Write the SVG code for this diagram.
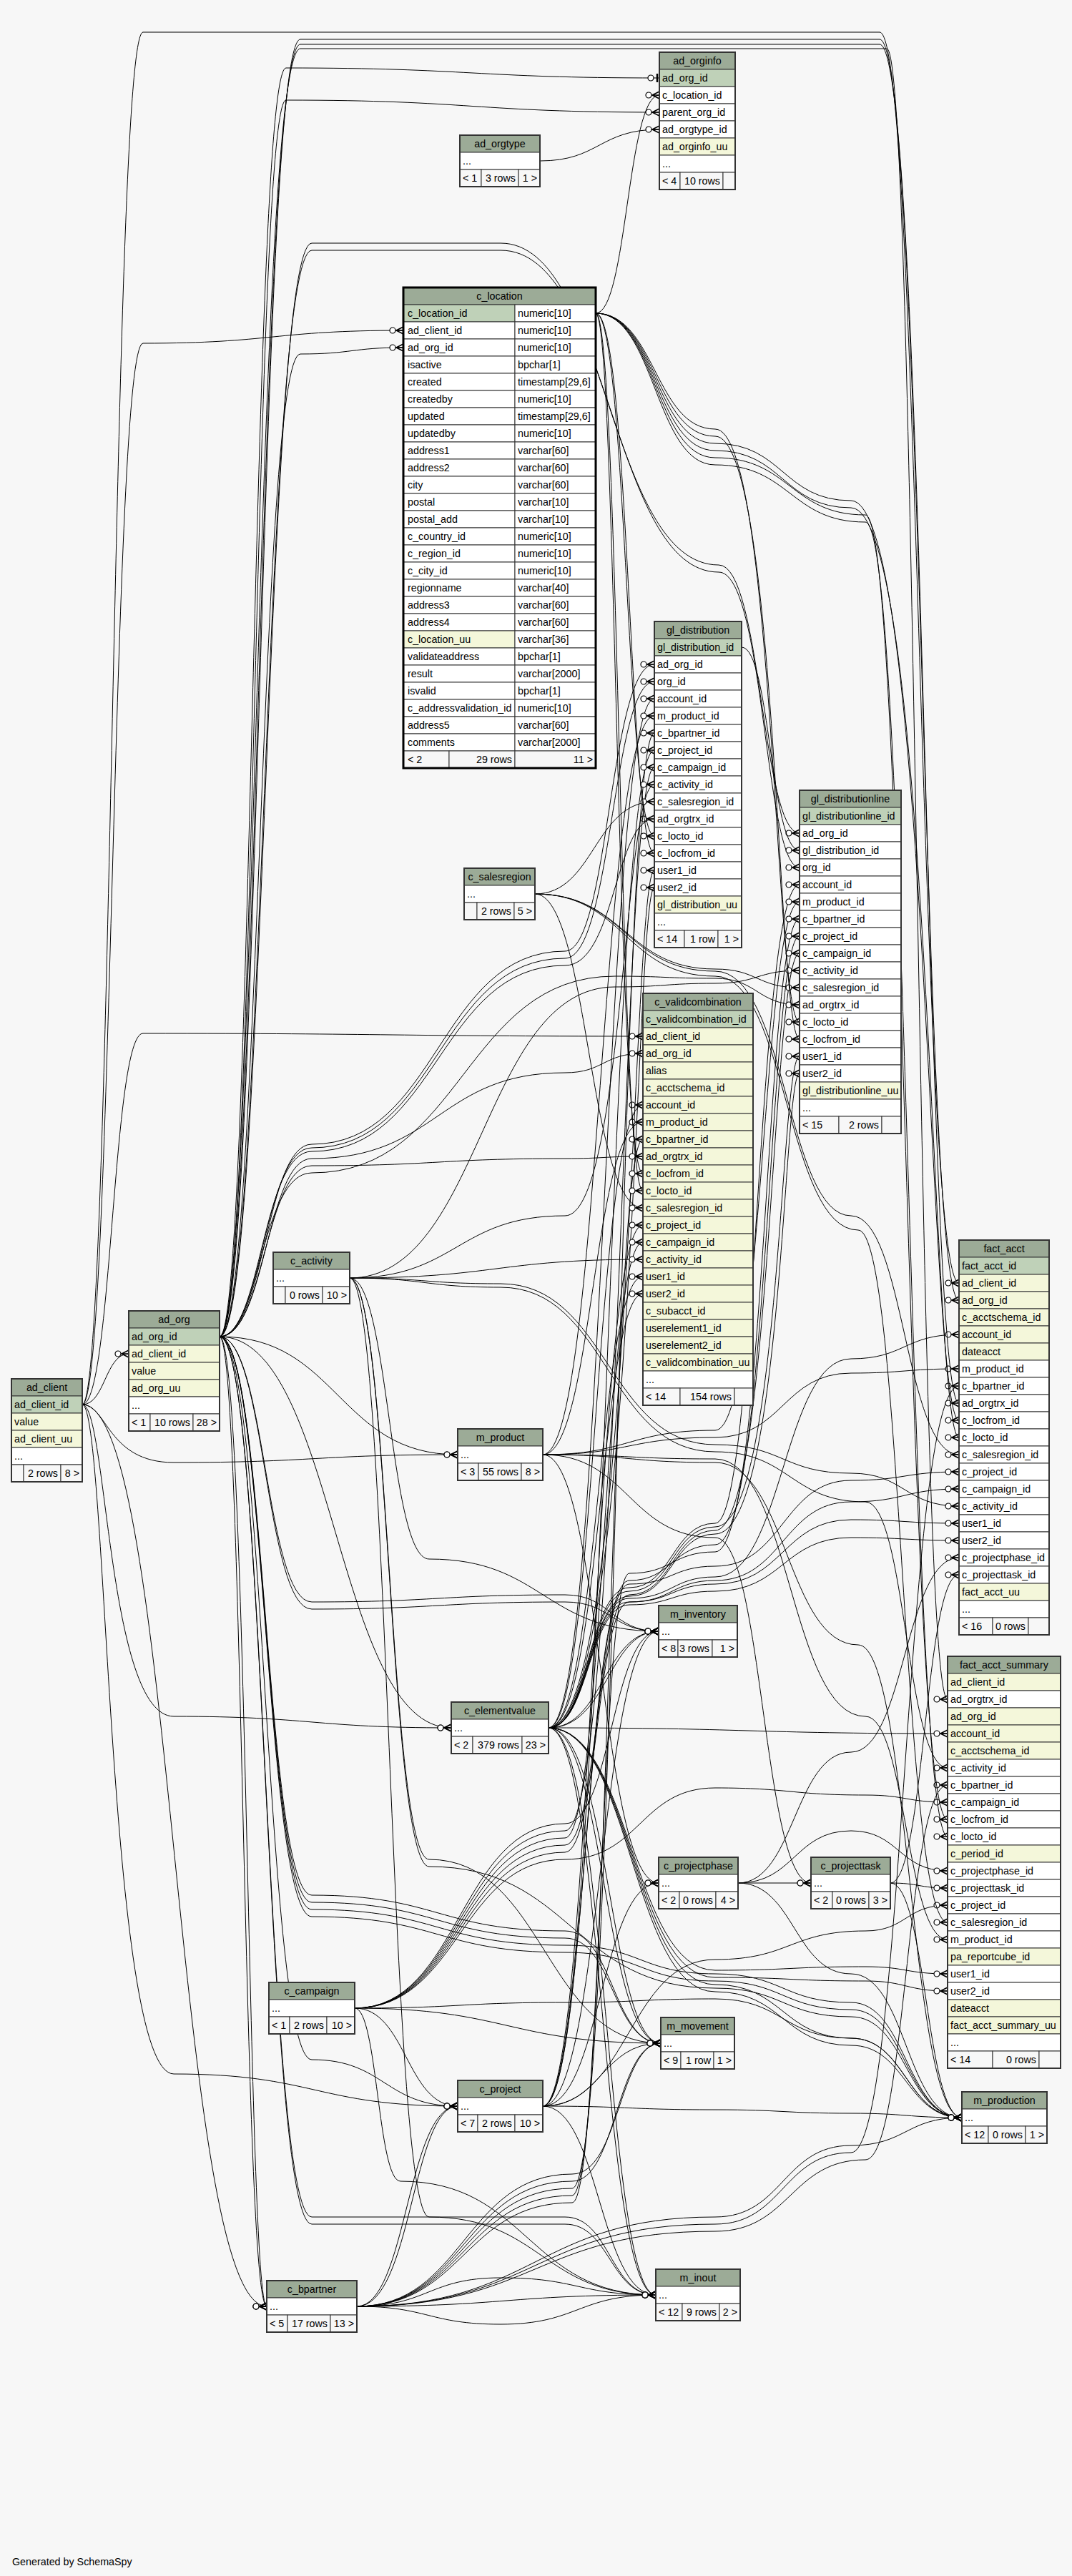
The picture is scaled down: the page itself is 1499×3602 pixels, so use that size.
<svg xmlns="http://www.w3.org/2000/svg" width="1499" height="3602" viewBox="0 0 1499 3602">
<style>
.h{fill:#9cab97;stroke:#333;stroke-width:1}
.pk{fill:#bfd1b8;stroke:#333;stroke-width:1}
.nn{fill:#f4f7da;stroke:#333;stroke-width:1}
.w{fill:#fff;stroke:#333;stroke-width:1}
.f{fill:#f7f7f7;stroke:#333;stroke-width:1}
.o{fill:none;stroke:#333;stroke-width:2}
.ob{fill:none;stroke:#000;stroke-width:3}
text{font-family:"Liberation Sans",Arial,Helvetica,sans-serif;font-size:14.3px;fill:#000}
.c{text-anchor:middle}
.r{text-anchor:end}
#connectors path{fill:none;stroke:#000;stroke-width:1;marker-end:url(#crow)}
#connectors path.one{marker-end:url(#tee)}
</style>
<defs>
<marker id="crow" markerUnits="userSpaceOnUse" viewBox="-21 -8 23 16" markerWidth="23" markerHeight="16" refX="0" refY="0" orient="auto">
<path d="M0,-5 L-10,0 L0,5 M-10,0 L0,0" fill="none" stroke="#000" stroke-width="1.6"/>
<circle cx="-15" cy="0" r="4" fill="#fff" stroke="#000" stroke-width="1.2"/>
</marker>
<marker id="tee" markerUnits="userSpaceOnUse" viewBox="-21 -8 23 16" markerWidth="23" markerHeight="16" refX="0" refY="0" orient="auto">
<path d="M-3,-6 L-3,6" fill="none" stroke="#000" stroke-width="2.5"/>
<circle cx="-12" cy="0" r="4" fill="#fff" stroke="#000" stroke-width="1.2"/>
</marker>
</defs>
<rect x="0" y="0" width="1499" height="3602" fill="#f7f7f7"/>

<g id="connectors">
<path class="one" d="M307,1869 C353,1869 353,95 400,95 C661,95 661,109 922,109"/>
<path d="M833,438 C877,438 877,133 922,133"/>
<path d="M307,1869 C356,1869 356,140 400,140 C661,140 661,157 922,157"/>
<path d="M755,225 C838,225 838,181 922,181"/>
<path d="M115,1964 C157,1964 157,480 200,480 C382,480 382,462 564,462"/>
<path d="M307,1869 C363,1869 363,495 420,495 C492,495 492,486 564,486"/>
<path d="M115,1964 C147,1964 147,1893 180,1893"/>
<path d="M307,1869 C371,1869 371,1600 436,1600 C613,1600 613,1330 790,1330 C852,1330 852,929 915,929"/>
<path d="M307,1869 C368,1869 368,1605 436,1605 C613,1605 613,1340 790,1340 C856,1340 856,953 915,953"/>
<path d="M307,1869 C366,1869 366,1610 436,1610 C613,1610 613,1350 790,1350 C860,1350 860,1145 915,1145"/>
<path d="M767,2416 C845,2416 845,977 915,977"/>
<path d="M759,2034 C840,2034 840,1001 915,1001"/>
<path d="M499,3225 C649,3225 649,3060 800,3060 C864,3060 864,1025 915,1025"/>
<path d="M759,2945 C848,2945 848,1049 915,1049"/>
<path d="M496,2808 C643,2808 643,2560 790,2560 C868,2560 868,1073 915,1073"/>
<path d="M489,1787 C639,1787 639,1700 790,1700 C872,1700 872,1097 915,1097"/>
<path d="M748,1250 C831,1250 831,1121 915,1121"/>
<path d="M833,438 C876,438 876,1169 915,1169"/>
<path d="M833,438 C880,438 880,1193 915,1193"/>
<path d="M767,2416 C884,2416 884,1217 915,1217"/>
<path d="M767,2416 C888,2416 888,1241 915,1241"/>
<path d="M307,1869 C371,1869 371,340 436,340 L700,340 C850,340 850,790 1005,790 C1065,790 1065,1165 1118,1165"/>
<path d="M307,1869 C369,1869 369,350 436,350 L700,350 C855,350 855,800 1005,800 C1069,800 1069,1213 1118,1213"/>
<path d="M1037,905 C1077,905 1077,1189 1118,1189"/>
<path d="M767,2416 C823,2416 823,2220 880,2220 C940,2220 940,2130 1000,2130 C1059,2130 1059,1237 1118,1237"/>
<path d="M759,2034 C879,2034 879,2000 1000,2000 C1067,2000 1067,1261 1118,1261"/>
<path d="M499,3225 C649,3225 649,3080 800,3080 C840,3080 840,2200 880,2200 C940,2200 940,2170 1000,2170 C1071,2170 1071,1285 1118,1285"/>
<path d="M759,2945 C819,2945 819,2210 880,2210 C940,2210 940,2160 1000,2160 C1075,2160 1075,1309 1118,1309"/>
<path d="M496,2808 C643,2808 643,2580 790,2580 C835,2580 835,2230 880,2230 C940,2230 940,2140 1000,2140 C1079,2140 1079,1333 1118,1333"/>
<path d="M489,1787 C674,1787 674,1380 860,1380 C930,1380 930,1375 1000,1375 C1059,1375 1059,1357 1118,1357"/>
<path d="M748,1250 C874,1250 874,1355 1000,1355 C1059,1355 1059,1381 1118,1381"/>
<path d="M307,1869 C364,1869 364,1640 436,1640 C648,1640 648,1365 860,1365 C930,1365 930,1368 1000,1368 C1059,1368 1059,1405 1118,1405"/>
<path d="M833,438 C916,438 916,600 1000,600 C1083,600 1083,1429 1118,1429"/>
<path d="M833,438 C916,438 916,610 1000,610 C1087,610 1087,1453 1118,1453"/>
<path d="M767,2416 C823,2416 823,2225 880,2225 C940,2225 940,2135 1000,2135 C1091,2135 1091,1477 1118,1477"/>
<path d="M767,2416 C823,2416 823,2232 880,2232 C940,2232 940,2145 1000,2145 C1095,2145 1095,1501 1118,1501"/>
<path d="M115,1964 C157,1964 157,1445 200,1445 C549,1445 549,1449 899,1449"/>
<path d="M307,1869 C372,1869 372,1620 436,1620 C613,1620 613,1500 790,1500 C844,1500 844,1473 899,1473"/>
<path d="M767,2416 C833,2416 833,1545 899,1545"/>
<path d="M759,2034 C829,2034 829,1569 899,1569"/>
<path d="M499,3225 C649,3225 649,3070 800,3070 C852,3070 852,1593 899,1593"/>
<path d="M307,1869 C370,1869 370,1630 436,1630 C613,1630 613,1620 790,1620 C844,1620 844,1617 899,1617"/>
<path d="M833,438 C862,438 862,1641 899,1641"/>
<path d="M833,438 C866,438 866,1665 899,1665"/>
<path d="M748,1250 C823,1250 823,1689 899,1689"/>
<path d="M759,2945 C829,2945 829,1713 899,1713"/>
<path d="M496,2808 C643,2808 643,2570 790,2570 C844,2570 844,1737 899,1737"/>
<path d="M489,1787 C694,1787 694,1761 899,1761"/>
<path d="M767,2416 C836,2416 836,1785 899,1785"/>
<path d="M767,2416 C840,2416 840,1809 899,1809"/>
<path d="M115,1964 C157,1964 157,45 200,45 L1230,45 C1286,45 1286,1794 1341,1794"/>
<path d="M307,1869 C363,1869 363,55 420,55 L1230,55 C1290,55 1290,1818 1341,1818"/>
<path d="M767,2416 C823,2416 823,2235 880,2235 C940,2235 940,2205 1000,2205 C1095,2205 1095,1900 1190,1900 C1265,1900 1265,1866 1341,1866"/>
<path d="M759,2034 C879,2034 879,2010 1000,2010 C1095,2010 1095,1920 1190,1920 C1265,1920 1265,1914 1341,1914"/>
<path d="M499,3225 C749,3225 749,3110 1000,3110 C1095,3110 1095,3010 1190,3010 C1265,3010 1265,1938 1341,1938"/>
<path d="M307,1869 C361,1869 361,62 420,62 L1230,62 C1294,62 1294,1962 1341,1962"/>
<path d="M833,438 C916,438 916,620 1000,620 C1095,620 1095,700 1190,700 C1298,700 1298,1986 1341,1986"/>
<path d="M833,438 C916,438 916,630 1000,630 C1095,630 1095,710 1190,710 C1302,710 1302,2010 1341,2010"/>
<path d="M748,1250 C874,1250 874,1358 1000,1358 C1100,1358 1100,1700 1190,1700 C1265,1700 1265,2034 1341,2034"/>
<path d="M759,2945 C819,2945 819,2215 880,2215 C940,2215 940,2190 1000,2190 C1095,2190 1095,2070 1190,2070 C1265,2070 1265,2058 1341,2058"/>
<path d="M496,2808 C643,2808 643,2590 790,2590 C835,2590 835,2240 880,2240 C940,2240 940,2210 1000,2210 C1095,2210 1095,2100 1190,2100 C1265,2100 1265,2082 1341,2082"/>
<path d="M489,1787 C594,1787 594,1795 700,1795 C850,1795 850,2020 1000,2020 C1095,2020 1095,2060 1190,2060 C1265,2060 1265,2106 1341,2106"/>
<path d="M767,2416 C823,2416 823,2240 880,2240 C940,2240 940,2215 1000,2215 C1095,2215 1095,2125 1190,2125 C1265,2125 1265,2130 1341,2130"/>
<path d="M767,2416 C823,2416 823,2244 880,2244 C940,2244 940,2225 1000,2225 C1095,2225 1095,2150 1190,2150 C1265,2150 1265,2154 1341,2154"/>
<path d="M1032,2633 C1111,2633 1111,2450 1190,2450 C1265,2450 1265,2178 1341,2178"/>
<path d="M1245,2633 C1293,2633 1293,2202 1341,2202"/>
<path d="M307,1869 C358,1869 358,68 420,68 L1240,68 C1282,68 1282,2376 1325,2376"/>
<path d="M767,2416 C1046,2416 1046,2424 1325,2424"/>
<path d="M489,1787 C594,1787 594,1800 700,1800 C850,1800 850,2030 1000,2030 C1105,2030 1105,2100 1210,2100 C1267,2100 1267,2472 1325,2472"/>
<path d="M499,3225 C749,3225 749,3120 1000,3120 C1105,3120 1105,3020 1210,3020 C1267,3020 1267,2496 1325,2496"/>
<path d="M496,2808 C643,2808 643,2600 790,2600 C895,2600 895,2500 1000,2500 C1105,2500 1105,2510 1210,2510 C1267,2510 1267,2520 1325,2520"/>
<path d="M833,438 C916,438 916,640 1000,640 C1105,640 1105,720 1210,720 C1267,720 1267,2544 1325,2544"/>
<path d="M833,438 C916,438 916,650 1000,650 C1105,650 1105,730 1210,730 C1271,730 1271,2568 1325,2568"/>
<path d="M1032,2633 C1111,2633 1111,2560 1190,2560 C1257,2560 1257,2616 1325,2616"/>
<path d="M1245,2633 C1285,2633 1285,2640 1325,2640"/>
<path d="M759,2945 C879,2945 879,2740 1000,2740 C1105,2740 1105,2700 1210,2700 C1267,2700 1267,2664 1325,2664"/>
<path d="M748,1250 C874,1250 874,1365 1000,1365 C1100,1365 1100,1720 1200,1720 C1262,1720 1262,2688 1325,2688"/>
<path d="M759,2034 C879,2034 879,2040 1000,2040 C1105,2040 1105,2400 1210,2400 C1267,2400 1267,2712 1325,2712"/>
<path d="M767,2416 C883,2416 883,2755 1000,2755 C1105,2755 1105,2750 1210,2750 C1267,2750 1267,2760 1325,2760"/>
<path d="M767,2416 C883,2416 883,2765 1000,2765 C1105,2765 1105,2770 1210,2770 C1267,2770 1267,2784 1325,2784"/>
<path d="M759,2945 C840,2945 840,2633 921,2633"/>
<path d="M759,2034 C840,2034 840,2633 921,2633"/>
<path d="M1032,2633 L1134,2633"/>
<path d="M759,2034 C879,2034 879,2150 1000,2150 C1067,2150 1067,2633 1134,2633"/>
<path d="M307,1869 C371,1869 371,2240 436,2240 C613,2240 613,2230 790,2230 C855,2230 855,2281 921,2281"/>
<path d="M307,1869 C371,1869 371,2250 436,2250 C613,2250 613,2240 790,2240 C855,2240 855,2281 921,2281"/>
<path d="M489,1787 C544,1787 544,2180 600,2180 C760,2180 760,2281 921,2281"/>
<path d="M496,2808 C643,2808 643,2550 790,2550 C855,2550 855,2281 921,2281"/>
<path d="M759,2945 C840,2945 840,2281 921,2281"/>
<path d="M767,2416 C844,2416 844,2281 921,2281"/>
<path d="M767,2416 C850,2416 850,2281 921,2281"/>
<path d="M307,1869 C371,1869 371,2650 436,2650 C613,2650 613,2700 790,2700 C857,2700 857,2857 924,2857"/>
<path d="M307,1869 C371,1869 371,2660 436,2660 C613,2660 613,2710 790,2710 C857,2710 857,2857 924,2857"/>
<path d="M489,1787 C544,1787 544,2600 600,2600 C762,2600 762,2857 924,2857"/>
<path d="M496,2808 C710,2808 710,2857 924,2857"/>
<path d="M759,2945 C841,2945 841,2857 924,2857"/>
<path d="M767,2416 C845,2416 845,2857 924,2857"/>
<path d="M767,2416 C852,2416 852,2857 924,2857"/>
<path d="M499,3225 C649,3225 649,3050 800,3050 C862,3050 862,2857 924,2857"/>
<path d="M499,3225 C649,3225 649,3040 800,3040 C866,3040 866,2857 924,2857"/>
<path d="M307,1869 C371,1869 371,2670 436,2670 C613,2670 613,2720 790,2720 C895,2720 895,2760 1000,2760 C1095,2760 1095,2800 1190,2800 C1267,2800 1267,2961 1345,2961"/>
<path d="M307,1869 C371,1869 371,2680 436,2680 C613,2680 613,2730 790,2730 C895,2730 895,2770 1000,2770 C1095,2770 1095,2810 1190,2810 C1267,2810 1267,2961 1345,2961"/>
<path d="M759,2034 C879,2034 879,2045 1000,2045 C1100,2045 1100,2300 1200,2300 C1272,2300 1272,2961 1345,2961"/>
<path d="M759,2945 C879,2945 879,2950 1000,2950 C1095,2950 1095,2955 1190,2955 C1267,2955 1267,2961 1345,2961"/>
<path d="M1032,2633 C1111,2633 1111,2760 1190,2760 C1267,2760 1267,2961 1345,2961"/>
<path d="M1245,2633 C1295,2633 1295,2961 1345,2961"/>
<path d="M496,2808 C643,2808 643,2800 790,2800 C895,2800 895,2795 1000,2795 C1095,2795 1095,2850 1190,2850 C1267,2850 1267,2961 1345,2961"/>
<path d="M489,1787 C544,1787 544,2610 600,2610 C800,2610 800,2780 1000,2780 C1095,2780 1095,2820 1190,2820 C1267,2820 1267,2961 1345,2961"/>
<path d="M767,2416 C883,2416 883,2775 1000,2775 C1095,2775 1095,2850 1190,2850 C1267,2850 1267,2961 1345,2961"/>
<path d="M767,2416 C883,2416 883,2785 1000,2785 C1095,2785 1095,2860 1190,2860 C1267,2860 1267,2961 1345,2961"/>
<path d="M499,3225 C749,3225 749,3100 1000,3100 C1095,3100 1095,3000 1190,3000 C1267,3000 1267,2961 1345,2961"/>
<path d="M307,1869 C371,1869 371,3100 436,3100 L790,3100 C853,3100 853,3209 917,3209"/>
<path d="M307,1869 C371,1869 371,3110 436,3110 L790,3110 C853,3110 853,3209 917,3209"/>
<path d="M489,1787 C544,1787 544,3100 600,3100 C758,3100 758,3209 917,3209"/>
<path d="M496,2808 C528,2808 528,3050 560,3050 C738,3050 738,3209 917,3209"/>
<path d="M759,2945 C838,2945 838,3209 917,3209"/>
<path d="M767,2416 C842,2416 842,3209 917,3209"/>
<path d="M767,2416 C848,2416 848,3209 917,3209"/>
<path d="M499,3225 C708,3225 708,3209 917,3209"/>
<path d="M499,3225 C599,3225 599,3185 700,3185 C808,3185 808,3209 917,3209"/>
<path d="M499,3225 C599,3225 599,3250 700,3250 C808,3250 808,3209 917,3209"/>
<path d="M115,1964 C150,1964 150,2900 243,2900 C441,2900 441,2945 640,2945"/>
<path d="M307,1869 C371,1869 371,2880 436,2880 C538,2880 538,2945 640,2945"/>
<path d="M496,2808 C568,2808 568,2945 640,2945"/>
<path d="M499,3225 C569,3225 569,2945 640,2945"/>
<path d="M499,3225 C576,3225 576,2945 640,2945"/>
<path d="M115,1964 C244,1964 244,3225 373,3225"/>
<path d="M307,1869 C340,1869 340,3225 373,3225"/>
<path d="M307,1869 C346,1869 346,3225 373,3225"/>
<path d="M115,1964 C150,1964 150,2045 243,2045 C441,2045 441,2034 640,2034"/>
<path d="M307,1869 C473,1869 473,2034 640,2034"/>
<path d="M115,1964 C150,1964 150,2400 243,2400 C437,2400 437,2416 631,2416"/>
<path d="M307,1869 C469,1869 469,2416 631,2416"/>
</g>

<g id="ad_orginfo">
<rect class="h" x="922" y="73" width="106" height="24"/><text class="c" x="975" y="90">ad_orginfo</text>
<rect class="pk" x="922" y="97" width="106" height="24"/><text x="926" y="114">ad_org_id</text>
<rect class="w" x="922" y="121" width="106" height="24"/><text x="926" y="138">c_location_id</text>
<rect class="w" x="922" y="145" width="106" height="24"/><text x="926" y="162">parent_org_id</text>
<rect class="w" x="922" y="169" width="106" height="24"/><text x="926" y="186">ad_orgtype_id</text>
<rect class="nn" x="922" y="193" width="106" height="24"/><text x="926" y="210">ad_orginfo_uu</text>
<rect class="w" x="922" y="217" width="106" height="24"/><text x="926" y="234">...</text>
<rect class="f" x="922" y="241" width="29" height="24"/><text x="926" y="258">&lt; 4</text>
<rect class="f" x="951" y="241" width="60" height="24"/><text class="r" x="1007" y="258">10 rows</text>
<rect class="f" x="1011" y="241" width="17" height="24"/>
<rect class="o" x="922" y="73" width="106" height="192"/>
</g>

<g id="ad_orgtype">
<rect class="h" x="643" y="189" width="112" height="24"/><text class="c" x="699" y="206">ad_orgtype</text>
<rect class="w" x="643" y="213" width="112" height="24"/><text x="647" y="230">...</text>
<rect class="f" x="643" y="237" width="30" height="24"/><text x="647" y="254">&lt; 1</text>
<rect class="f" x="673" y="237" width="52" height="24"/><text class="r" x="721" y="254">3 rows</text>
<rect class="f" x="725" y="237" width="30" height="24"/><text class="r" x="751" y="254">1 &gt;</text>
<rect class="o" x="643" y="189" width="112" height="72"/>
</g>

<g id="c_location">
<rect class="h" x="564" y="402" width="269" height="24"/><text class="c" x="698.5" y="419">c_location</text>
<rect class="pk" x="564" y="426" width="156" height="24"/><rect class="w" x="720" y="426" width="113" height="24"/><text x="570" y="443">c_location_id</text><text x="724" y="443">numeric[10]</text>
<rect class="w" x="564" y="450" width="156" height="24"/><rect class="w" x="720" y="450" width="113" height="24"/><text x="570" y="467">ad_client_id</text><text x="724" y="467">numeric[10]</text>
<rect class="w" x="564" y="474" width="156" height="24"/><rect class="w" x="720" y="474" width="113" height="24"/><text x="570" y="491">ad_org_id</text><text x="724" y="491">numeric[10]</text>
<rect class="w" x="564" y="498" width="156" height="24"/><rect class="w" x="720" y="498" width="113" height="24"/><text x="570" y="515">isactive</text><text x="724" y="515">bpchar[1]</text>
<rect class="w" x="564" y="522" width="156" height="24"/><rect class="w" x="720" y="522" width="113" height="24"/><text x="570" y="539">created</text><text x="724" y="539">timestamp[29,6]</text>
<rect class="w" x="564" y="546" width="156" height="24"/><rect class="w" x="720" y="546" width="113" height="24"/><text x="570" y="563">createdby</text><text x="724" y="563">numeric[10]</text>
<rect class="w" x="564" y="570" width="156" height="24"/><rect class="w" x="720" y="570" width="113" height="24"/><text x="570" y="587">updated</text><text x="724" y="587">timestamp[29,6]</text>
<rect class="w" x="564" y="594" width="156" height="24"/><rect class="w" x="720" y="594" width="113" height="24"/><text x="570" y="611">updatedby</text><text x="724" y="611">numeric[10]</text>
<rect class="w" x="564" y="618" width="156" height="24"/><rect class="w" x="720" y="618" width="113" height="24"/><text x="570" y="635">address1</text><text x="724" y="635">varchar[60]</text>
<rect class="w" x="564" y="642" width="156" height="24"/><rect class="w" x="720" y="642" width="113" height="24"/><text x="570" y="659">address2</text><text x="724" y="659">varchar[60]</text>
<rect class="w" x="564" y="666" width="156" height="24"/><rect class="w" x="720" y="666" width="113" height="24"/><text x="570" y="683">city</text><text x="724" y="683">varchar[60]</text>
<rect class="w" x="564" y="690" width="156" height="24"/><rect class="w" x="720" y="690" width="113" height="24"/><text x="570" y="707">postal</text><text x="724" y="707">varchar[10]</text>
<rect class="w" x="564" y="714" width="156" height="24"/><rect class="w" x="720" y="714" width="113" height="24"/><text x="570" y="731">postal_add</text><text x="724" y="731">varchar[10]</text>
<rect class="w" x="564" y="738" width="156" height="24"/><rect class="w" x="720" y="738" width="113" height="24"/><text x="570" y="755">c_country_id</text><text x="724" y="755">numeric[10]</text>
<rect class="w" x="564" y="762" width="156" height="24"/><rect class="w" x="720" y="762" width="113" height="24"/><text x="570" y="779">c_region_id</text><text x="724" y="779">numeric[10]</text>
<rect class="w" x="564" y="786" width="156" height="24"/><rect class="w" x="720" y="786" width="113" height="24"/><text x="570" y="803">c_city_id</text><text x="724" y="803">numeric[10]</text>
<rect class="w" x="564" y="810" width="156" height="24"/><rect class="w" x="720" y="810" width="113" height="24"/><text x="570" y="827">regionname</text><text x="724" y="827">varchar[40]</text>
<rect class="w" x="564" y="834" width="156" height="24"/><rect class="w" x="720" y="834" width="113" height="24"/><text x="570" y="851">address3</text><text x="724" y="851">varchar[60]</text>
<rect class="w" x="564" y="858" width="156" height="24"/><rect class="w" x="720" y="858" width="113" height="24"/><text x="570" y="875">address4</text><text x="724" y="875">varchar[60]</text>
<rect class="nn" x="564" y="882" width="156" height="24"/><rect class="w" x="720" y="882" width="113" height="24"/><text x="570" y="899">c_location_uu</text><text x="724" y="899">varchar[36]</text>
<rect class="w" x="564" y="906" width="156" height="24"/><rect class="w" x="720" y="906" width="113" height="24"/><text x="570" y="923">validateaddress</text><text x="724" y="923">bpchar[1]</text>
<rect class="w" x="564" y="930" width="156" height="24"/><rect class="w" x="720" y="930" width="113" height="24"/><text x="570" y="947">result</text><text x="724" y="947">varchar[2000]</text>
<rect class="w" x="564" y="954" width="156" height="24"/><rect class="w" x="720" y="954" width="113" height="24"/><text x="570" y="971">isvalid</text><text x="724" y="971">bpchar[1]</text>
<rect class="w" x="564" y="978" width="156" height="24"/><rect class="w" x="720" y="978" width="113" height="24"/><text x="570" y="995">c_addressvalidation_id</text><text x="724" y="995">numeric[10]</text>
<rect class="w" x="564" y="1002" width="156" height="24"/><rect class="w" x="720" y="1002" width="113" height="24"/><text x="570" y="1019">address5</text><text x="724" y="1019">varchar[60]</text>
<rect class="w" x="564" y="1026" width="156" height="24"/><rect class="w" x="720" y="1026" width="113" height="24"/><text x="570" y="1043">comments</text><text x="724" y="1043">varchar[2000]</text>
<rect class="f" x="564" y="1050" width="64" height="24"/><text x="570" y="1067">&lt; 2</text>
<rect class="f" x="628" y="1050" width="92" height="24"/><text class="r" x="716" y="1067">29 rows</text>
<rect class="f" x="720" y="1050" width="113" height="24"/><text class="r" x="829" y="1067">11 &gt;</text>
<rect class="ob" x="564" y="402" width="269" height="672"/>
</g>

<g id="gl_distribution">
<rect class="h" x="915" y="869" width="122" height="24"/><text class="c" x="976" y="886">gl_distribution</text>
<rect class="pk" x="915" y="893" width="122" height="24"/><text x="919" y="910">gl_distribution_id</text>
<rect class="w" x="915" y="917" width="122" height="24"/><text x="919" y="934">ad_org_id</text>
<rect class="w" x="915" y="941" width="122" height="24"/><text x="919" y="958">org_id</text>
<rect class="w" x="915" y="965" width="122" height="24"/><text x="919" y="982">account_id</text>
<rect class="w" x="915" y="989" width="122" height="24"/><text x="919" y="1006">m_product_id</text>
<rect class="w" x="915" y="1013" width="122" height="24"/><text x="919" y="1030">c_bpartner_id</text>
<rect class="w" x="915" y="1037" width="122" height="24"/><text x="919" y="1054">c_project_id</text>
<rect class="w" x="915" y="1061" width="122" height="24"/><text x="919" y="1078">c_campaign_id</text>
<rect class="w" x="915" y="1085" width="122" height="24"/><text x="919" y="1102">c_activity_id</text>
<rect class="w" x="915" y="1109" width="122" height="24"/><text x="919" y="1126">c_salesregion_id</text>
<rect class="w" x="915" y="1133" width="122" height="24"/><text x="919" y="1150">ad_orgtrx_id</text>
<rect class="w" x="915" y="1157" width="122" height="24"/><text x="919" y="1174">c_locto_id</text>
<rect class="w" x="915" y="1181" width="122" height="24"/><text x="919" y="1198">c_locfrom_id</text>
<rect class="w" x="915" y="1205" width="122" height="24"/><text x="919" y="1222">user1_id</text>
<rect class="w" x="915" y="1229" width="122" height="24"/><text x="919" y="1246">user2_id</text>
<rect class="nn" x="915" y="1253" width="122" height="24"/><text x="919" y="1270">gl_distribution_uu</text>
<rect class="w" x="915" y="1277" width="122" height="24"/><text x="919" y="1294">...</text>
<rect class="f" x="915" y="1301" width="42" height="24"/><text x="919" y="1318">&lt; 14</text>
<rect class="f" x="957" y="1301" width="47" height="24"/><text class="r" x="1000" y="1318">1 row</text>
<rect class="f" x="1004" y="1301" width="33" height="24"/><text class="r" x="1033" y="1318">1 &gt;</text>
<rect class="o" x="915" y="869" width="122" height="456"/>
</g>

<g id="gl_distributionline">
<rect class="h" x="1118" y="1105" width="142" height="24"/><text class="c" x="1189" y="1122">gl_distributionline</text>
<rect class="pk" x="1118" y="1129" width="142" height="24"/><text x="1122" y="1146">gl_distributionline_id</text>
<rect class="w" x="1118" y="1153" width="142" height="24"/><text x="1122" y="1170">ad_org_id</text>
<rect class="w" x="1118" y="1177" width="142" height="24"/><text x="1122" y="1194">gl_distribution_id</text>
<rect class="w" x="1118" y="1201" width="142" height="24"/><text x="1122" y="1218">org_id</text>
<rect class="w" x="1118" y="1225" width="142" height="24"/><text x="1122" y="1242">account_id</text>
<rect class="w" x="1118" y="1249" width="142" height="24"/><text x="1122" y="1266">m_product_id</text>
<rect class="w" x="1118" y="1273" width="142" height="24"/><text x="1122" y="1290">c_bpartner_id</text>
<rect class="w" x="1118" y="1297" width="142" height="24"/><text x="1122" y="1314">c_project_id</text>
<rect class="w" x="1118" y="1321" width="142" height="24"/><text x="1122" y="1338">c_campaign_id</text>
<rect class="w" x="1118" y="1345" width="142" height="24"/><text x="1122" y="1362">c_activity_id</text>
<rect class="w" x="1118" y="1369" width="142" height="24"/><text x="1122" y="1386">c_salesregion_id</text>
<rect class="w" x="1118" y="1393" width="142" height="24"/><text x="1122" y="1410">ad_orgtrx_id</text>
<rect class="w" x="1118" y="1417" width="142" height="24"/><text x="1122" y="1434">c_locto_id</text>
<rect class="w" x="1118" y="1441" width="142" height="24"/><text x="1122" y="1458">c_locfrom_id</text>
<rect class="w" x="1118" y="1465" width="142" height="24"/><text x="1122" y="1482">user1_id</text>
<rect class="w" x="1118" y="1489" width="142" height="24"/><text x="1122" y="1506">user2_id</text>
<rect class="nn" x="1118" y="1513" width="142" height="24"/><text x="1122" y="1530">gl_distributionline_uu</text>
<rect class="w" x="1118" y="1537" width="142" height="24"/><text x="1122" y="1554">...</text>
<rect class="f" x="1118" y="1561" width="55" height="24"/><text x="1122" y="1578">&lt; 15</text>
<rect class="f" x="1173" y="1561" width="60" height="24"/><text class="r" x="1229" y="1578">2 rows</text>
<rect class="f" x="1233" y="1561" width="27" height="24"/>
<rect class="o" x="1118" y="1105" width="142" height="480"/>
</g>

<g id="c_validcombination">
<rect class="h" x="899" y="1389" width="154" height="24"/><text class="c" x="976" y="1406">c_validcombination</text>
<rect class="pk" x="899" y="1413" width="154" height="24"/><text x="903" y="1430">c_validcombination_id</text>
<rect class="nn" x="899" y="1437" width="154" height="24"/><text x="903" y="1454">ad_client_id</text>
<rect class="nn" x="899" y="1461" width="154" height="24"/><text x="903" y="1478">ad_org_id</text>
<rect class="nn" x="899" y="1485" width="154" height="24"/><text x="903" y="1502">alias</text>
<rect class="nn" x="899" y="1509" width="154" height="24"/><text x="903" y="1526">c_acctschema_id</text>
<rect class="nn" x="899" y="1533" width="154" height="24"/><text x="903" y="1550">account_id</text>
<rect class="nn" x="899" y="1557" width="154" height="24"/><text x="903" y="1574">m_product_id</text>
<rect class="nn" x="899" y="1581" width="154" height="24"/><text x="903" y="1598">c_bpartner_id</text>
<rect class="nn" x="899" y="1605" width="154" height="24"/><text x="903" y="1622">ad_orgtrx_id</text>
<rect class="nn" x="899" y="1629" width="154" height="24"/><text x="903" y="1646">c_locfrom_id</text>
<rect class="nn" x="899" y="1653" width="154" height="24"/><text x="903" y="1670">c_locto_id</text>
<rect class="nn" x="899" y="1677" width="154" height="24"/><text x="903" y="1694">c_salesregion_id</text>
<rect class="nn" x="899" y="1701" width="154" height="24"/><text x="903" y="1718">c_project_id</text>
<rect class="nn" x="899" y="1725" width="154" height="24"/><text x="903" y="1742">c_campaign_id</text>
<rect class="nn" x="899" y="1749" width="154" height="24"/><text x="903" y="1766">c_activity_id</text>
<rect class="nn" x="899" y="1773" width="154" height="24"/><text x="903" y="1790">user1_id</text>
<rect class="nn" x="899" y="1797" width="154" height="24"/><text x="903" y="1814">user2_id</text>
<rect class="nn" x="899" y="1821" width="154" height="24"/><text x="903" y="1838">c_subacct_id</text>
<rect class="nn" x="899" y="1845" width="154" height="24"/><text x="903" y="1862">userelement1_id</text>
<rect class="nn" x="899" y="1869" width="154" height="24"/><text x="903" y="1886">userelement2_id</text>
<rect class="nn" x="899" y="1893" width="154" height="24"/><text x="903" y="1910">c_validcombination_uu</text>
<rect class="w" x="899" y="1917" width="154" height="24"/><text x="903" y="1934">...</text>
<rect class="f" x="899" y="1941" width="52" height="24"/><text x="903" y="1958">&lt; 14</text>
<rect class="f" x="951" y="1941" width="76" height="24"/><text class="r" x="1023" y="1958">154 rows</text>
<rect class="f" x="1027" y="1941" width="26" height="24"/>
<rect class="o" x="899" y="1389" width="154" height="576"/>
</g>

<g id="fact_acct">
<rect class="h" x="1341" y="1734" width="126" height="24"/><text class="c" x="1404" y="1751">fact_acct</text>
<rect class="pk" x="1341" y="1758" width="126" height="24"/><text x="1345" y="1775">fact_acct_id</text>
<rect class="nn" x="1341" y="1782" width="126" height="24"/><text x="1345" y="1799">ad_client_id</text>
<rect class="nn" x="1341" y="1806" width="126" height="24"/><text x="1345" y="1823">ad_org_id</text>
<rect class="nn" x="1341" y="1830" width="126" height="24"/><text x="1345" y="1847">c_acctschema_id</text>
<rect class="nn" x="1341" y="1854" width="126" height="24"/><text x="1345" y="1871">account_id</text>
<rect class="nn" x="1341" y="1878" width="126" height="24"/><text x="1345" y="1895">dateacct</text>
<rect class="w" x="1341" y="1902" width="126" height="24"/><text x="1345" y="1919">m_product_id</text>
<rect class="w" x="1341" y="1926" width="126" height="24"/><text x="1345" y="1943">c_bpartner_id</text>
<rect class="w" x="1341" y="1950" width="126" height="24"/><text x="1345" y="1967">ad_orgtrx_id</text>
<rect class="w" x="1341" y="1974" width="126" height="24"/><text x="1345" y="1991">c_locfrom_id</text>
<rect class="w" x="1341" y="1998" width="126" height="24"/><text x="1345" y="2015">c_locto_id</text>
<rect class="w" x="1341" y="2022" width="126" height="24"/><text x="1345" y="2039">c_salesregion_id</text>
<rect class="w" x="1341" y="2046" width="126" height="24"/><text x="1345" y="2063">c_project_id</text>
<rect class="w" x="1341" y="2070" width="126" height="24"/><text x="1345" y="2087">c_campaign_id</text>
<rect class="w" x="1341" y="2094" width="126" height="24"/><text x="1345" y="2111">c_activity_id</text>
<rect class="w" x="1341" y="2118" width="126" height="24"/><text x="1345" y="2135">user1_id</text>
<rect class="w" x="1341" y="2142" width="126" height="24"/><text x="1345" y="2159">user2_id</text>
<rect class="w" x="1341" y="2166" width="126" height="24"/><text x="1345" y="2183">c_projectphase_id</text>
<rect class="w" x="1341" y="2190" width="126" height="24"/><text x="1345" y="2207">c_projecttask_id</text>
<rect class="nn" x="1341" y="2214" width="126" height="24"/><text x="1345" y="2231">fact_acct_uu</text>
<rect class="w" x="1341" y="2238" width="126" height="24"/><text x="1345" y="2255">...</text>
<rect class="f" x="1341" y="2262" width="47" height="24"/><text x="1345" y="2279">&lt; 16</text>
<rect class="f" x="1388" y="2262" width="50" height="24"/><text class="r" x="1434" y="2279">0 rows</text>
<rect class="f" x="1438" y="2262" width="29" height="24"/>
<rect class="o" x="1341" y="1734" width="126" height="552"/>
</g>

<g id="fact_acct_summary">
<rect class="h" x="1325" y="2316" width="158" height="24"/><text class="c" x="1404" y="2333">fact_acct_summary</text>
<rect class="nn" x="1325" y="2340" width="158" height="24"/><text x="1329" y="2357">ad_client_id</text>
<rect class="w" x="1325" y="2364" width="158" height="24"/><text x="1329" y="2381">ad_orgtrx_id</text>
<rect class="nn" x="1325" y="2388" width="158" height="24"/><text x="1329" y="2405">ad_org_id</text>
<rect class="nn" x="1325" y="2412" width="158" height="24"/><text x="1329" y="2429">account_id</text>
<rect class="nn" x="1325" y="2436" width="158" height="24"/><text x="1329" y="2453">c_acctschema_id</text>
<rect class="w" x="1325" y="2460" width="158" height="24"/><text x="1329" y="2477">c_activity_id</text>
<rect class="w" x="1325" y="2484" width="158" height="24"/><text x="1329" y="2501">c_bpartner_id</text>
<rect class="w" x="1325" y="2508" width="158" height="24"/><text x="1329" y="2525">c_campaign_id</text>
<rect class="w" x="1325" y="2532" width="158" height="24"/><text x="1329" y="2549">c_locfrom_id</text>
<rect class="w" x="1325" y="2556" width="158" height="24"/><text x="1329" y="2573">c_locto_id</text>
<rect class="nn" x="1325" y="2580" width="158" height="24"/><text x="1329" y="2597">c_period_id</text>
<rect class="w" x="1325" y="2604" width="158" height="24"/><text x="1329" y="2621">c_projectphase_id</text>
<rect class="w" x="1325" y="2628" width="158" height="24"/><text x="1329" y="2645">c_projecttask_id</text>
<rect class="w" x="1325" y="2652" width="158" height="24"/><text x="1329" y="2669">c_project_id</text>
<rect class="w" x="1325" y="2676" width="158" height="24"/><text x="1329" y="2693">c_salesregion_id</text>
<rect class="w" x="1325" y="2700" width="158" height="24"/><text x="1329" y="2717">m_product_id</text>
<rect class="nn" x="1325" y="2724" width="158" height="24"/><text x="1329" y="2741">pa_reportcube_id</text>
<rect class="w" x="1325" y="2748" width="158" height="24"/><text x="1329" y="2765">user1_id</text>
<rect class="w" x="1325" y="2772" width="158" height="24"/><text x="1329" y="2789">user2_id</text>
<rect class="nn" x="1325" y="2796" width="158" height="24"/><text x="1329" y="2813">dateacct</text>
<rect class="nn" x="1325" y="2820" width="158" height="24"/><text x="1329" y="2837">fact_acct_summary_uu</text>
<rect class="w" x="1325" y="2844" width="158" height="24"/><text x="1329" y="2861">...</text>
<rect class="f" x="1325" y="2868" width="63" height="24"/><text x="1329" y="2885">&lt; 14</text>
<rect class="f" x="1388" y="2868" width="65" height="24"/><text class="r" x="1449" y="2885">0 rows</text>
<rect class="f" x="1453" y="2868" width="30" height="24"/>
<rect class="o" x="1325" y="2316" width="158" height="576"/>
</g>

<g id="ad_client">
<rect class="h" x="16" y="1928" width="99" height="24"/><text class="c" x="65.5" y="1945">ad_client</text>
<rect class="pk" x="16" y="1952" width="99" height="24"/><text x="20" y="1969">ad_client_id</text>
<rect class="nn" x="16" y="1976" width="99" height="24"/><text x="20" y="1993">value</text>
<rect class="nn" x="16" y="2000" width="99" height="24"/><text x="20" y="2017">ad_client_uu</text>
<rect class="w" x="16" y="2024" width="99" height="24"/><text x="20" y="2041">...</text>
<rect class="f" x="16" y="2048" width="17" height="24"/>
<rect class="f" x="33" y="2048" width="52" height="24"/><text class="r" x="81" y="2065">2 rows</text>
<rect class="f" x="85" y="2048" width="30" height="24"/><text class="r" x="111" y="2065">8 &gt;</text>
<rect class="o" x="16" y="1928" width="99" height="144"/>
</g>

<g id="ad_org">
<rect class="h" x="180" y="1833" width="127" height="24"/><text class="c" x="243.5" y="1850">ad_org</text>
<rect class="pk" x="180" y="1857" width="127" height="24"/><text x="184" y="1874">ad_org_id</text>
<rect class="nn" x="180" y="1881" width="127" height="24"/><text x="184" y="1898">ad_client_id</text>
<rect class="nn" x="180" y="1905" width="127" height="24"/><text x="184" y="1922">value</text>
<rect class="nn" x="180" y="1929" width="127" height="24"/><text x="184" y="1946">ad_org_uu</text>
<rect class="w" x="180" y="1953" width="127" height="24"/><text x="184" y="1970">...</text>
<rect class="f" x="180" y="1977" width="30" height="24"/><text x="184" y="1994">&lt; 1</text>
<rect class="f" x="210" y="1977" width="60" height="24"/><text class="r" x="266" y="1994">10 rows</text>
<rect class="f" x="270" y="1977" width="37" height="24"/><text class="r" x="303" y="1994">28 &gt;</text>
<rect class="o" x="180" y="1833" width="127" height="168"/>
</g>

<g id="c_activity">
<rect class="h" x="382" y="1751" width="107" height="24"/><text class="c" x="435.5" y="1768">c_activity</text>
<rect class="w" x="382" y="1775" width="107" height="24"/><text x="386" y="1792">...</text>
<rect class="f" x="382" y="1799" width="17" height="24"/>
<rect class="f" x="399" y="1799" width="52" height="24"/><text class="r" x="447" y="1816">0 rows</text>
<rect class="f" x="451" y="1799" width="38" height="24"/><text class="r" x="485" y="1816">10 &gt;</text>
<rect class="o" x="382" y="1751" width="107" height="72"/>
</g>

<g id="c_salesregion">
<rect class="h" x="649" y="1214" width="99" height="24"/><text class="c" x="698.5" y="1231">c_salesregion</text>
<rect class="w" x="649" y="1238" width="99" height="24"/><text x="653" y="1255">...</text>
<rect class="f" x="649" y="1262" width="18" height="24"/>
<rect class="f" x="667" y="1262" width="52" height="24"/><text class="r" x="715" y="1279">2 rows</text>
<rect class="f" x="719" y="1262" width="29" height="24"/><text class="r" x="744" y="1279">5 &gt;</text>
<rect class="o" x="649" y="1214" width="99" height="72"/>
</g>

<g id="m_product">
<rect class="h" x="640" y="1998" width="119" height="24"/><text class="c" x="699.5" y="2015">m_product</text>
<rect class="w" x="640" y="2022" width="119" height="24"/><text x="644" y="2039">...</text>
<rect class="f" x="640" y="2046" width="29" height="24"/><text x="644" y="2063">&lt; 3</text>
<rect class="f" x="669" y="2046" width="60" height="24"/><text class="r" x="725" y="2063">55 rows</text>
<rect class="f" x="729" y="2046" width="30" height="24"/><text class="r" x="755" y="2063">8 &gt;</text>
<rect class="o" x="640" y="1998" width="119" height="72"/>
</g>

<g id="m_inventory">
<rect class="h" x="921" y="2245" width="110" height="24"/><text class="c" x="976" y="2262">m_inventory</text>
<rect class="w" x="921" y="2269" width="110" height="24"/><text x="925" y="2286">...</text>
<rect class="f" x="921" y="2293" width="27" height="24"/><text x="925" y="2310">&lt; 8</text>
<rect class="f" x="948" y="2293" width="48" height="24"/><text class="r" x="992" y="2310">3 rows</text>
<rect class="f" x="996" y="2293" width="35" height="24"/><text class="r" x="1027" y="2310">1 &gt;</text>
<rect class="o" x="921" y="2245" width="110" height="72"/>
</g>

<g id="c_elementvalue">
<rect class="h" x="631" y="2380" width="136" height="24"/><text class="c" x="699" y="2397">c_elementvalue</text>
<rect class="w" x="631" y="2404" width="136" height="24"/><text x="635" y="2421">...</text>
<rect class="f" x="631" y="2428" width="30" height="24"/><text x="635" y="2445">&lt; 2</text>
<rect class="f" x="661" y="2428" width="69" height="24"/><text class="r" x="726" y="2445">379 rows</text>
<rect class="f" x="730" y="2428" width="37" height="24"/><text class="r" x="763" y="2445">23 &gt;</text>
<rect class="o" x="631" y="2380" width="136" height="72"/>
</g>

<g id="c_projectphase">
<rect class="h" x="921" y="2597" width="111" height="24"/><text class="c" x="976.5" y="2614">c_projectphase</text>
<rect class="w" x="921" y="2621" width="111" height="24"/><text x="925" y="2638">...</text>
<rect class="f" x="921" y="2645" width="29" height="24"/><text x="925" y="2662">&lt; 2</text>
<rect class="f" x="950" y="2645" width="51" height="24"/><text class="r" x="997" y="2662">0 rows</text>
<rect class="f" x="1001" y="2645" width="31" height="24"/><text class="r" x="1028" y="2662">4 &gt;</text>
<rect class="o" x="921" y="2597" width="111" height="72"/>
</g>

<g id="c_projecttask">
<rect class="h" x="1134" y="2597" width="111" height="24"/><text class="c" x="1189.5" y="2614">c_projecttask</text>
<rect class="w" x="1134" y="2621" width="111" height="24"/><text x="1138" y="2638">...</text>
<rect class="f" x="1134" y="2645" width="30" height="24"/><text x="1138" y="2662">&lt; 2</text>
<rect class="f" x="1164" y="2645" width="51" height="24"/><text class="r" x="1211" y="2662">0 rows</text>
<rect class="f" x="1215" y="2645" width="30" height="24"/><text class="r" x="1241" y="2662">3 &gt;</text>
<rect class="o" x="1134" y="2597" width="111" height="72"/>
</g>

<g id="c_campaign">
<rect class="h" x="376" y="2772" width="120" height="24"/><text class="c" x="436" y="2789">c_campaign</text>
<rect class="w" x="376" y="2796" width="120" height="24"/><text x="380" y="2813">...</text>
<rect class="f" x="376" y="2820" width="29" height="24"/><text x="380" y="2837">&lt; 1</text>
<rect class="f" x="405" y="2820" width="52" height="24"/><text class="r" x="453" y="2837">2 rows</text>
<rect class="f" x="457" y="2820" width="39" height="24"/><text class="r" x="492" y="2837">10 &gt;</text>
<rect class="o" x="376" y="2772" width="120" height="72"/>
</g>

<g id="m_movement">
<rect class="h" x="924" y="2821" width="103" height="24"/><text class="c" x="975.5" y="2838">m_movement</text>
<rect class="w" x="924" y="2845" width="103" height="24"/><text x="928" y="2862">...</text>
<rect class="f" x="924" y="2869" width="28" height="24"/><text x="928" y="2886">&lt; 9</text>
<rect class="f" x="952" y="2869" width="46" height="24"/><text class="r" x="994" y="2886">1 row</text>
<rect class="f" x="998" y="2869" width="29" height="24"/><text class="r" x="1023" y="2886">1 &gt;</text>
<rect class="o" x="924" y="2821" width="103" height="72"/>
</g>

<g id="c_project">
<rect class="h" x="640" y="2909" width="119" height="24"/><text class="c" x="699.5" y="2926">c_project</text>
<rect class="w" x="640" y="2933" width="119" height="24"/><text x="644" y="2950">...</text>
<rect class="f" x="640" y="2957" width="28" height="24"/><text x="644" y="2974">&lt; 7</text>
<rect class="f" x="668" y="2957" width="52" height="24"/><text class="r" x="716" y="2974">2 rows</text>
<rect class="f" x="720" y="2957" width="39" height="24"/><text class="r" x="755" y="2974">10 &gt;</text>
<rect class="o" x="640" y="2909" width="119" height="72"/>
</g>

<g id="m_production">
<rect class="h" x="1345" y="2925" width="119" height="24"/><text class="c" x="1404.5" y="2942">m_production</text>
<rect class="w" x="1345" y="2949" width="119" height="24"/><text x="1349" y="2966">...</text>
<rect class="f" x="1345" y="2973" width="37" height="24"/><text x="1349" y="2990">&lt; 12</text>
<rect class="f" x="1382" y="2973" width="52" height="24"/><text class="r" x="1430" y="2990">0 rows</text>
<rect class="f" x="1434" y="2973" width="30" height="24"/><text class="r" x="1460" y="2990">1 &gt;</text>
<rect class="o" x="1345" y="2925" width="119" height="72"/>
</g>

<g id="c_bpartner">
<rect class="h" x="373" y="3189" width="126" height="24"/><text class="c" x="436" y="3206">c_bpartner</text>
<rect class="w" x="373" y="3213" width="126" height="24"/><text x="377" y="3230">...</text>
<rect class="f" x="373" y="3237" width="29" height="24"/><text x="377" y="3254">&lt; 5</text>
<rect class="f" x="402" y="3237" width="60" height="24"/><text class="r" x="458" y="3254">17 rows</text>
<rect class="f" x="462" y="3237" width="37" height="24"/><text class="r" x="495" y="3254">13 &gt;</text>
<rect class="o" x="373" y="3189" width="126" height="72"/>
</g>

<g id="m_inout">
<rect class="h" x="917" y="3173" width="118" height="24"/><text class="c" x="976" y="3190">m_inout</text>
<rect class="w" x="917" y="3197" width="118" height="24"/><text x="921" y="3214">...</text>
<rect class="f" x="917" y="3221" width="37" height="24"/><text x="921" y="3238">&lt; 12</text>
<rect class="f" x="954" y="3221" width="52" height="24"/><text class="r" x="1002" y="3238">9 rows</text>
<rect class="f" x="1006" y="3221" width="29" height="24"/><text class="r" x="1031" y="3238">2 &gt;</text>
<rect class="o" x="917" y="3173" width="118" height="72"/>
</g>

<text x="17" y="3587">Generated by SchemaSpy</text>
</svg>
